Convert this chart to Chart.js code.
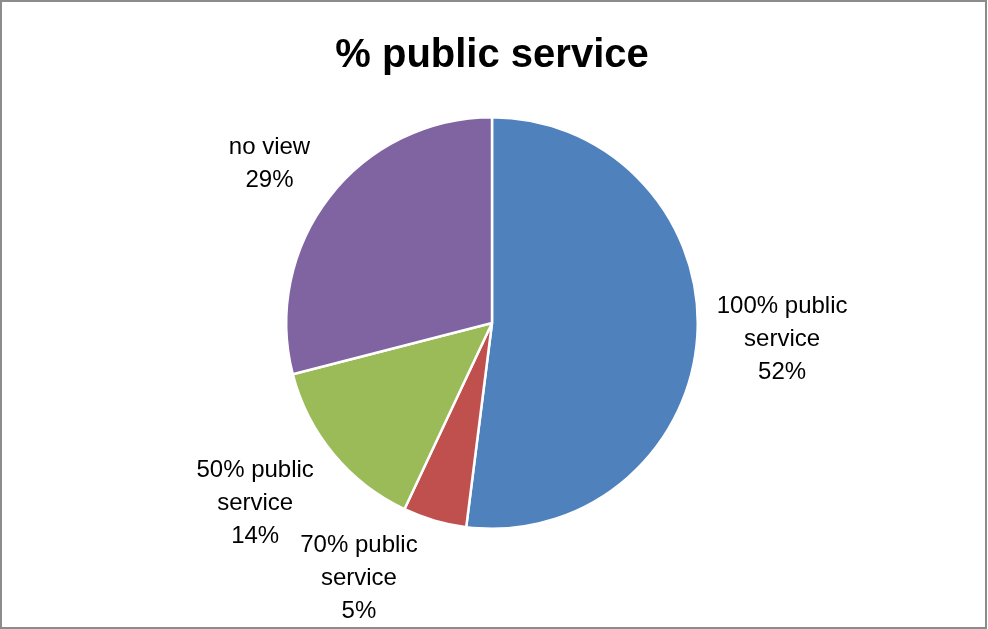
<!DOCTYPE html>
<html>
<head>
<meta charset="utf-8">
<title>% public service</title>
<script src="https://cdn.jsdelivr.net/npm/chart.js"></script>
<style>
  html, body { margin: 0; padding: 0; background: #fff; }
  canvas { display: block; }
</style>
</head>
<body>
<canvas id="pie" width="988" height="629"></canvas>
<script>
// survey answers, share of respondents in %
const categories = ['100% public service', '70% public service', '50% public service', 'no view'];
const shares = [52, 5, 14, 29];
const sliceColors = ['#4F81BD', '#C0504D', '#9BBB59', '#8064A2'];

Chart.defaults.font.family = "'Liberation Sans', Arial, sans-serif";
Chart.defaults.color = '#000';

// wraps a category name into lines no wider than maxW
function wrapText(ctx, text, maxW) {
    const words = text.split(' ');
    const lines = [];
    let cur = '';
    words.forEach(w => {
        const test = cur ? cur + ' ' + w : w;
        if (cur && ctx.measureText(test).width > maxW) {
            lines.push(cur);
            cur = w;
        } else {
            cur = test;
        }
    });
    if (cur) lines.push(cur);
    return lines;
}

// outside labels: "name / value%" placed just beyond each slice
const outsideLabels = {
    id: 'outsideLabels',
    afterDatasetsDraw(chart, args, opts) {
        const ctx = chart.ctx;
        const meta = chart.getDatasetMeta(0);
        const lineH = opts.lineHeight;
        ctx.save();
        ctx.font = opts.size + 'px ' + Chart.defaults.font.family;
        ctx.fillStyle = opts.color;
        ctx.textAlign = 'center';
        ctx.textBaseline = 'middle';

        meta.data.forEach((arc, i) => {
            const p = arc.getProps(['x', 'y', 'startAngle', 'endAngle', 'outerRadius'], true);
            const lines = wrapText(ctx, chart.data.labels[i], opts.maxWidth);
            lines.push(chart.data.datasets[0].data[i] + '%');
            const w = Math.max(...lines.map(l => ctx.measureText(l).width));
            // height of the inked text, first cap line to last baseline
            const h = lineH * (lines.length - 1) + opts.size * 0.85;
            const target = p.outerRadius + opts.gap;

            // push the block out along the ray until its nearest edge sits at target
            const place = ang => {
                const c = Math.cos(ang), s = Math.sin(ang);
                let lo = 0, hi = p.outerRadius * 3;
                for (let k = 0; k < 40; k++) {
                    const t = (lo + hi) / 2;
                    const dx = Math.max(0, Math.abs(c * t) - w / 2);
                    const dy = Math.max(0, Math.abs(s * t) - h / 2);
                    if (Math.hypot(dx, dy) < target) lo = t; else hi = t;
                }
                return { cx: p.x + c * hi, cy: p.y + s * hi };
            };

            const mid = (p.startAngle + p.endAngle) / 2;
            let ang = Math.atan2(Math.sin(mid) * opts.squash, Math.cos(mid));
            let pos = place(ang);
            // keep the block inside the frame by swinging it toward the horizontal
            const step = -Math.sign(Math.sin(ang) * Math.cos(ang)) * Math.PI / 360;
            let n = 0;
            while ((pos.cy + h / 2 > chart.height - opts.margin || pos.cy - h / 2 < opts.margin) && n++ < 160) {
                ang += step;
                pos = place(ang);
            }

            lines.forEach((l, k) => {
                ctx.fillText(l, pos.cx, pos.cy - h / 2 + opts.size * 0.42 + lineH * k);
            });
        });
        ctx.restore();
    }
};

// thin grey frame round the chart
const frame = {
    id: 'frame',
    afterDraw(chart) {
        const ctx = chart.ctx;
        ctx.save();
        ctx.strokeStyle = '#8c8c8c';
        ctx.lineWidth = 2;
        ctx.strokeRect(1, 1, chart.width - 3, chart.height - 2);
        ctx.restore();
    }
};

new Chart(document.getElementById('pie'), {
    type: 'pie',
    data: {
        labels: categories,
        datasets: [{
            data: shares,
            backgroundColor: sliceColors,
            borderColor: '#fff',
            borderWidth: 2.5
        }]
    },
    options: {
        responsive: false,
        animation: false,
        devicePixelRatio: 1,
        layout: { padding: { top: 0, bottom: 99, left: 200, right: 204 } },
        plugins: {
            legend: { display: false },
            tooltip: { enabled: false },
            title: {
                display: true,
                text: '% public service',
                color: '#000',
                font: { size: 40, weight: 'bold' },
                padding: { top: 32, bottom: 36 }
            },
            outsideLabels: { size: 24, lineHeight: 33, gap: 19, squash: 0.92, margin: 7, maxWidth: 150, color: '#000' }
        }
    },
    plugins: [outsideLabels, frame]
});
</script>
</body>
</html>
